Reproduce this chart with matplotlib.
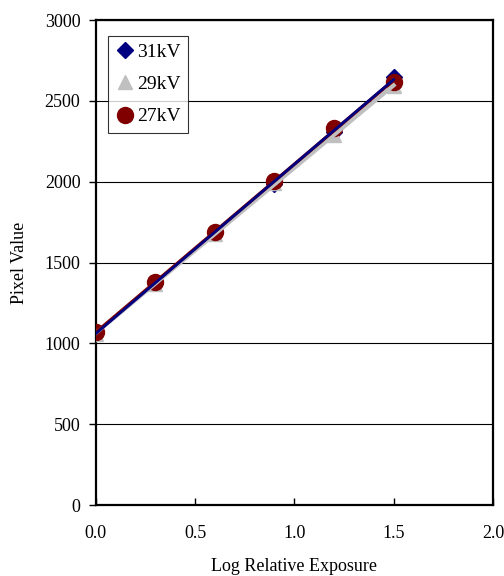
import matplotlib.pyplot as plt
import numpy as np

plt.rcParams['font.family'] = ['Liberation Serif', 'DejaVu Serif']

log_exposure = [0.0, 0.3, 0.6, 0.9, 1.2, 1.5]
kv31 = [1070, 1375, 1690, 1985, 2310, 2650]
kv29 = [1060, 1370, 1680, 1995, 2290, 2590]
kv27 = [1068, 1378, 1688, 2008, 2335, 2615]

series = [
    ("31kV", kv31, "D", "#000080", 8),
    ("29kV", kv29, "^", "#c0c0c0", 10),
    ("27kV", kv27, "o", "#800000", 11.5),
]

fig = plt.figure(figsize=(5.04, 5.76), dpi=100)
ax = fig.add_axes([0.19, 0.123, 0.788, 0.842])

x = np.array(log_exposure)
# markers first, trend lines drawn over them
for name, y, m, c, ms in series:
    ax.plot(x, y, linestyle="none", marker=m, color=c, markersize=ms,
            label=name, zorder=3)

line_order = [series[1], series[2], series[0]]
widths = {"29kV": 3.0, "27kV": 2.4, "31kV": 2.0}
for name, y, m, c, ms in line_order:
    k, b = np.polyfit(x, y, 1)
    ax.plot([x[0], x[-1]], [b, k * x[-1] + b], color=c,
            linewidth=widths[name], zorder=4)

ax.set_xlim(0, 2.0)
ax.set_ylim(0, 3000)
ax.set_xticks([0.0, 0.5, 1.0, 1.5, 2.0])
ax.set_xticklabels(["0.0", "0.5", "1.0", "1.5", "2.0"])
ax.set_yticks([0, 500, 1000, 1500, 2000, 2500, 3000])
ax.yaxis.grid(True, color="black", linewidth=0.8)
ax.set_axisbelow(True)

ax.tick_params(axis="x", direction="in", length=5, width=1, labelsize=13, pad=14)
ax.tick_params(axis="y", direction="out", length=5, width=1, labelsize=13, pad=6)
for s in ax.spines.values():
    s.set_linewidth(1.6)

ax.set_xlabel("Log Relative Exposure", fontsize=13, labelpad=12)
ax.set_ylabel("Pixel Value", fontsize=13, labelpad=12)

leg = ax.legend(loc="upper left", bbox_to_anchor=(0.03, 0.968), fontsize=14,
                frameon=True, fancybox=False, edgecolor="black",
                handletextpad=0.1, handlelength=1.0, borderpad=0.4,
                labelspacing=0.75, borderaxespad=0)
leg.get_frame().set_linewidth(0.8)

fig.savefig("out.png", dpi=100)
